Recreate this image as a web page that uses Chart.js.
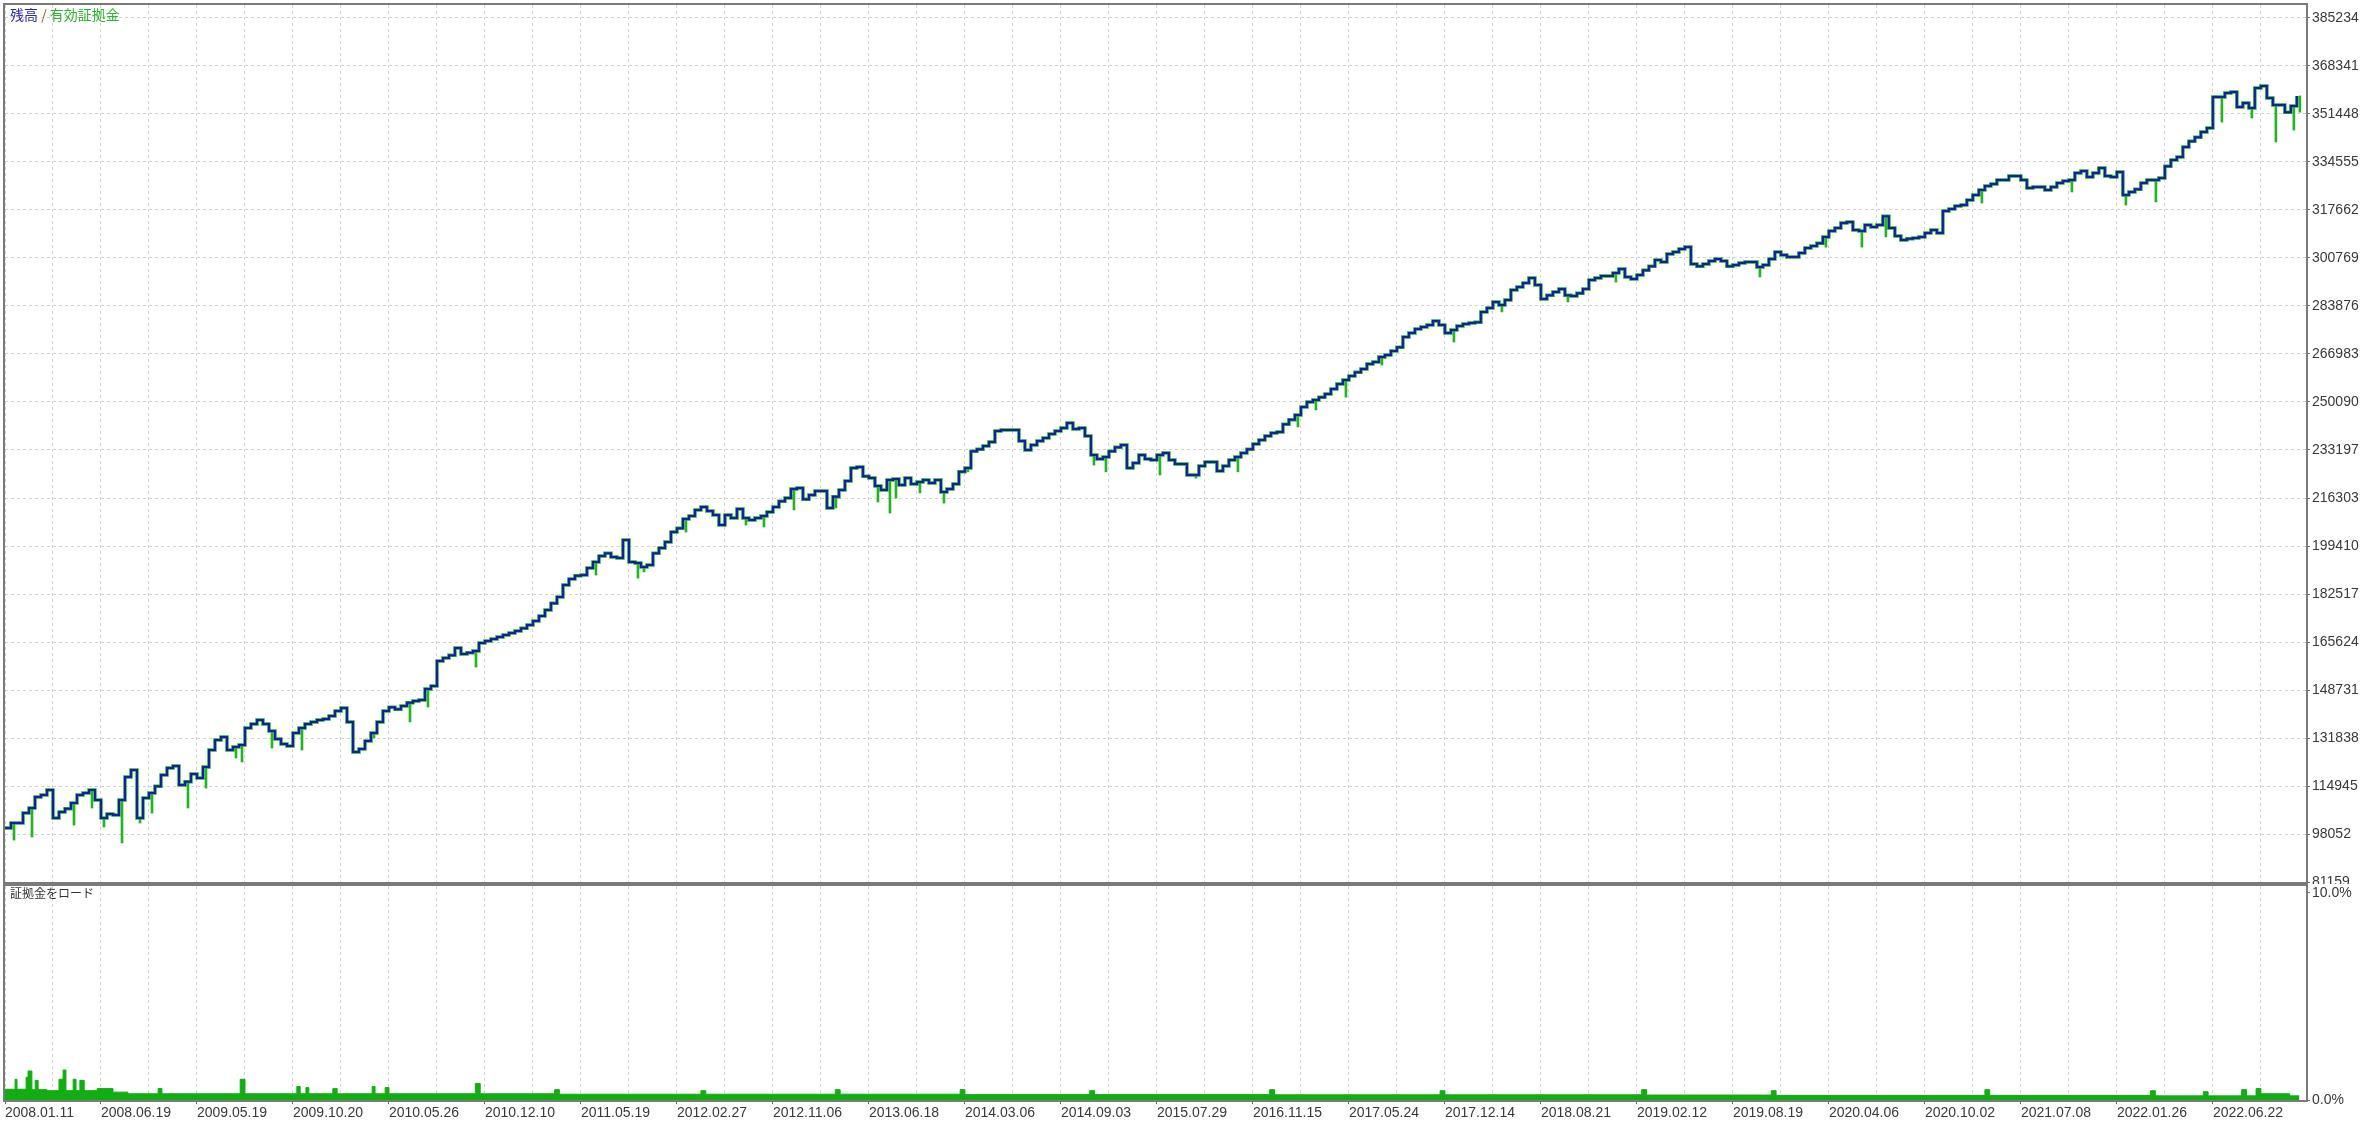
<!DOCTYPE html>
<html>
<head>
<meta charset="utf-8">
<script src="https://cdn.jsdelivr.net/npm/chart.js@4.4.1/dist/chart.umd.min.js"></script>
<style>
  html, body { margin: 0; padding: 0; background: #fff; width: 2368px; height: 1123px; overflow: hidden; }
  #wrap { position: relative; width: 2368px; height: 1123px; }
  canvas { position: absolute; left: 0; }
  #top { top: 0; }
  #bottom { top: 884px; }
  .lbl { position: absolute; font-family: "Noto Sans CJK JP", sans-serif; line-height: 16px; white-space: nowrap; }
</style>
</head>
<body>
<div id="wrap">
  <canvas id="top" width="2368" height="884"></canvas>
  <canvas id="bottom" width="2368" height="239"></canvas>
  <div class="lbl" style="left:10px;top:6px;font-size:14px"><span style="color:#2a2ab4">残高</span> <span style="color:#a05a14">/</span> <span style="color:#2db42d">有効証拠金</span></div>
  <div class="lbl" style="left:10px;top:885px;font-size:12px;color:#333">証拠金をロード</div>
</div>
<script>
// x axis is the trade sequence, 1 unit = one grid column; labels on every 2nd column
const xLabels = ['2008.01.11', '2008.06.19', '2009.05.19', '2009.10.20', '2010.05.26', '2010.12.10',
  '2011.05.19', '2012.02.27', '2012.11.06', '2013.06.18', '2014.03.06', '2014.09.03',
  '2015.07.29', '2016.11.15', '2017.05.24', '2017.12.14', '2018.08.21', '2019.02.12',
  '2019.08.19', '2020.04.06', '2020.10.02', '2021.07.08', '2022.01.26', '2022.06.22'];

const yTicks = [81159, 98052, 114945, 131838, 148731, 165624, 182517, 199410, 216303, 233197,
  250090, 266983, 283876, 300769, 317662, 334555, 351448, 368341, 385234];

// balance, one sample every eighth of a column
const step = 0.125;
const balance = [
  100200, 101900, 101900, 105400, 107200, 111100, 111800, 113500, 103700, 105800, 106900, 109000,
  111800, 112500, 113500, 110000, 103700, 105100, 104700, 110000, 118100, 120600, 103700, 110700,
  112500, 114900, 118800, 121300, 122000, 115300, 116400, 119200, 117800, 121600, 127600, 131100,
  132200, 127600, 128700, 129400, 135400, 136800, 138200, 136800, 134300, 131500, 129700, 129000,
  133600, 135400, 136800, 137500, 138200, 138500, 139600, 141300, 142400, 137500, 126900, 128000,
  130800, 133600, 137500, 141300, 142700, 142000, 143100, 144200, 144900, 145200, 149100, 150100,
  158900, 160000, 161000, 163500, 161400, 161800, 162500, 165300, 166000, 166700, 167400, 168100,
  168800, 169500, 170500, 171600, 173000, 174800, 176900, 179300, 181500, 185700, 187800, 188900,
  189200, 191700, 193800, 195900, 196900, 195500, 195200, 201500, 193800, 193400, 192000, 192700,
  196900, 198700, 200800, 204300, 205700, 208900, 210000, 212100, 213100, 211700, 210300, 206800,
  210300, 209300, 212400, 209300, 208600, 209300, 210000, 211400, 213100, 215200, 216300, 219500,
  219800, 215900, 217400, 218800, 218800, 212800, 216700, 219100, 222300, 226900, 227200, 224000,
  223300, 220500, 219100, 222600, 223000, 220900, 223300, 221200, 221900, 222600, 221600, 222600,
  218400, 219500, 221200, 225500, 226900, 232800, 233500, 234600, 236000, 239900, 240200, 240200,
  240200, 236400, 233200, 235000, 236400, 237400, 238800, 239900, 240900, 242700, 240600, 240900,
  238100, 231400, 230000, 230700, 232800, 234200, 235000, 226900, 228600, 231400, 230000, 229700,
  231400, 232100, 229700, 228300, 228300, 224400, 224400, 227600, 229000, 229000, 225800, 227600,
  229700, 230700, 232100, 233500, 235300, 236700, 238100, 239200, 239500, 242300, 243800, 245500,
  248300, 250100, 250800, 251800, 252900, 254700, 256400, 257800, 259200, 260600, 261700, 263500,
  264200, 265900, 266600, 268000, 269400, 273000, 274400, 275800, 276500, 277200, 278600, 277200,
  274400, 275400, 276800, 277500, 277900, 278200, 281800, 283200, 285300, 284200, 286000, 289500,
  290600, 292000, 293700, 291300, 286300, 287700, 288800, 289900, 287700, 287400, 288400, 289900,
  293000, 293700, 294400, 294400, 295500, 296900, 294100, 293400, 294800, 296500, 297900, 300100,
  299400, 302200, 302900, 303900, 304600, 298700, 297900, 298700, 299700, 300400, 299700, 297900,
  298300, 299000, 299400, 299400, 297600, 298300, 300400, 302900, 301800, 301100, 301100, 302500,
  304300, 305000, 306000, 308200, 310300, 311300, 313100, 313400, 310600, 310300, 312400, 311700,
  312400, 315500, 311300, 308500, 307100, 307500, 307800, 308200, 309600, 310600, 309600, 317300,
  318000, 319100, 319400, 321200, 322900, 324700, 326100, 326800, 328200, 328200, 329600, 329600,
  328200, 325400, 325800, 325800, 324700, 325800, 327200, 327900, 328200, 330700, 331400, 329300,
  330700, 332400, 329600, 329300, 331000, 322900, 324000, 325000, 327200, 328200, 328200, 328900,
  333100, 335300, 336300, 339800, 341900, 343300, 345100, 346500, 357400, 357400, 358800, 359200,
  353900, 355300, 353600, 360600, 361300, 357100, 354600, 354600, 352100, 354300, 357800
];

// equity drawdowns: sample index and lowest equity reached there
const dipIndex = [1, 4, 11, 14, 16, 19, 22, 24, 30, 33, 38, 39, 44, 49, 61, 67, 70, 78, 98, 105,
  106, 113, 123, 126, 131, 138, 145, 147, 148, 152, 156, 160, 181, 183, 192, 198, 205, 215, 218, 223,
  229, 241, 249, 260, 268, 292, 303, 309, 313, 329, 344, 353, 358, 369, 374, 378, 381, 382];
const dipLow = [95900, 97000, 101200, 107200, 100500, 94900, 101900, 105400, 107200, 114200,
  124800, 123400, 128300, 127600, 131800, 137500, 142700, 156800, 189200, 188100,
  190300, 204300, 206800, 206100, 212100, 212800, 214900, 211000, 216300, 218100,
  214500, 225500, 227900, 225500, 224400, 223300, 225500, 241300, 247300, 251800,
  263100, 271200, 281800, 285300, 292300, 294100, 304600, 304600, 308200, 320100,
  324000, 319400, 320500, 348600, 350000, 341600, 345800, 352100];

// margin load (%), value holds from each position to the next
const marginPos = [
  0, 0.21, 0.25, 0.44, 0.48, 0.56, 0.63, 0.69, 0.875, 1.125,
  1.21, 1.27, 1.42, 1.48, 1.56, 1.65, 1.92, 2.25, 2.56, 3.19,
  3.27, 4.9, 5.0, 6.08, 6.15, 6.27, 6.33, 6.83, 6.92, 7.65,
  7.71, 7.92, 8.0, 9.8, 9.9, 11.45, 11.55, 14.5, 14.6, 17.3,
  17.4, 19.9, 20.0, 22.6, 22.7, 26.35, 26.45, 29.9, 30.0, 34.1,
  34.2, 36.8, 36.9, 41.25, 41.35, 44.7, 44.8, 45.8, 45.9, 46.6,
  46.7, 46.9, 47.0, 47.5, 47.6, 47.8];
const marginVal = [
  0.52, 1.0, 0.52, 1.1, 1.4, 0.5, 0.95, 0.5, 0.45, 1.0,
  1.45, 0.45, 1.0, 0.45, 0.95, 0.45, 0.55, 0.38, 0.3, 0.55,
  0.3, 1.0, 0.3, 0.65, 0.3, 0.6, 0.3, 0.55, 0.3, 0.65,
  0.3, 0.6, 0.3, 0.8, 0.3, 0.5, 0.28, 0.45, 0.28, 0.5,
  0.28, 0.5, 0.26, 0.45, 0.26, 0.5, 0.25, 0.45, 0.25, 0.5,
  0.24, 0.45, 0.22, 0.5, 0.22, 0.45, 0.2, 0.4, 0.2, 0.5,
  0.2, 0.55, 0.3, 0.3, 0.2, 0.2];

const X_MAX = 47.94;
const gridColor = '#d2d2d2';
const axisColor = '#6a6a6a';
const blue = '#1a1aaa';
const green = '#22b422';

Chart.defaults.font.family = '"Liberation Sans", Arial, sans-serif';
Chart.defaults.font.size = 14;
Chart.defaults.color = '#383838';

const frame = {
  id: 'frame',
  afterDraw(chart) {
    const a = chart.chartArea, ctx = chart.ctx;
    ctx.save();
    ctx.strokeStyle = '#7a7a7a';
    ctx.lineWidth = 2;
    ctx.strokeRect(a.left - 1, a.top - 1, a.right - a.left + 2, a.bottom - a.top + 2);
    ctx.restore();
  }
};

function unitTicks(scale) {
  scale.ticks = [];
  for (let v = 0; v <= 47; v++) scale.ticks.push({ value: v });
}

let balancePts = balance.map((v, i) => ({ x: i * step, y: v }));
let dipPts = dipIndex.map((k, j) => ({ x: (k + 0.5) * step, y: [dipLow[j], balance[k]] }));
let marginPts = marginPos.map((p, i) => ({ x: p, y: marginVal[i] }));

new Chart(document.getElementById('top'), {
  type: 'line',
  data: {
    datasets: [
      { type: 'line', label: '残高', data: balancePts, borderColor: blue, borderWidth: 2, stepped: true, pointRadius: 0, order: 0 },
      { type: 'line', label: '有効証拠金', data: balancePts, borderColor: green, borderWidth: 3.5, stepped: true, pointRadius: 0, order: 1 },
      { type: 'bar', label: '有効証拠金', data: dipPts, backgroundColor: green, barThickness: 2, order: 2 }
    ]
  },
  options: {
    responsive: false,
    animation: false,
    events: [],
    layout: { padding: { left: 5, top: 5, right: 0, bottom: 2 } },
    plugins: { legend: { display: false }, tooltip: { enabled: false } },
    scales: {
      x: {
        type: 'linear', min: 0, max: X_MAX, offset: false,
        afterBuildTicks: unitTicks,
        ticks: { display: false },
        grid: { color: gridColor, drawTicks: false, offset: false },
        border: { display: false, dash: [3, 3] },
        afterFit: s => { s.height = 0; s.paddingLeft = 0; s.paddingRight = 0; }
      },
      y: {
        position: 'right', min: 81159, max: 389809,
        afterBuildTicks: s => { s.ticks = yTicks.map(v => ({ value: v })); },
        ticks: { padding: 2, callback: v => String(v) },
        grid: { color: gridColor, tickColor: axisColor, tickLength: 4, tickBorderDash: [] },
        border: { display: true, color: axisColor, width: 1, dash: [3, 3] },
        afterFit: s => { s.width = 62; s.paddingTop = 0; s.paddingBottom = 0; }
      }
    }
  },
  plugins: [frame]
});

new Chart(document.getElementById('bottom'), {
  type: 'line',
  data: {
    datasets: [{
      label: '証拠金をロード', data: marginPts, stepped: true, fill: 'origin',
      backgroundColor: '#12ad12', borderColor: '#12ad12', borderWidth: 1, pointRadius: 0
    }]
  },
  options: {
    responsive: false,
    animation: false,
    events: [],
    layout: { padding: { left: 5, top: 2, right: 0, bottom: 0 } },
    plugins: { legend: { display: false }, tooltip: { enabled: false } },
    scales: {
      x: {
        type: 'linear', min: 0, max: X_MAX, offset: false,
        afterBuildTicks: unitTicks,
        ticks: { autoSkip: false, maxRotation: 0, align: 'start', padding: 1,
          callback: v => (v % 2 === 0 ? xLabels[v / 2] : '') },
        grid: { color: gridColor, tickLength: 4, tickBorderDash: [], offset: false,
          tickColor: c => (c.index % 2 === 0 ? axisColor : 'rgba(0,0,0,0)') },
        border: { display: true, color: axisColor, dash: [3, 3] },
        afterFit: s => { s.height = 23; s.paddingLeft = 0; s.paddingRight = 0; }
      },
      y: {
        position: 'right', min: 0, max: 10.338,
        afterBuildTicks: s => { s.ticks = [{ value: 0 }, { value: 10 }]; },
        ticks: { padding: 2, callback: v => v.toFixed(1) + '%' },
        grid: { drawOnChartArea: false, tickColor: axisColor, tickLength: 4 },
        border: { display: true, color: axisColor },
        afterFit: s => { s.width = 62; s.paddingTop = 0; s.paddingBottom = 0; }
      }
    }
  },
  plugins: [frame]
});
</script>
</body>
</html>
